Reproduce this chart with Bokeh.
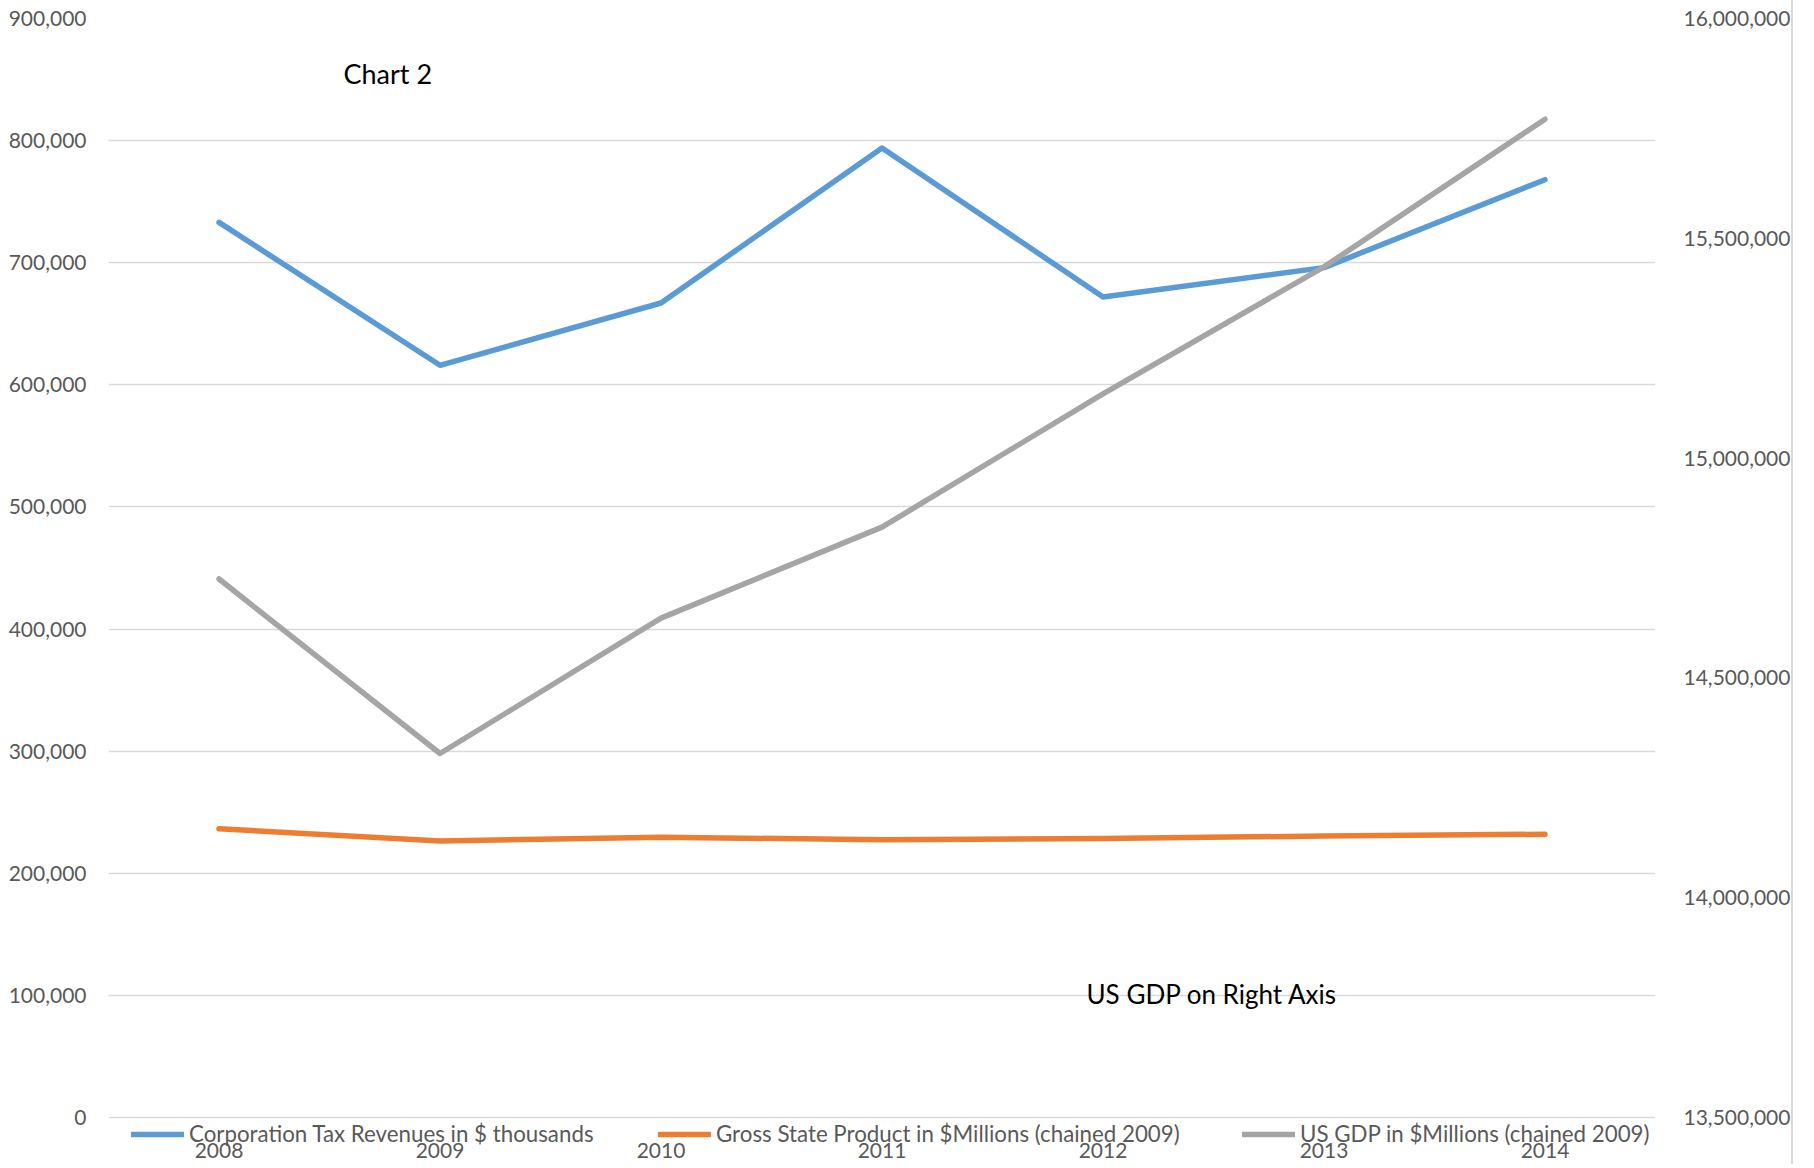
from bokeh.plotting import figure
from bokeh.models import (Range1d, FactorRange, LinearAxis, SingleIntervalTicker,
                          NumeralTickFormatter, Legend, LegendItem, Label)
from bokeh.embed import file_html
from bokeh.resources import INLINE

years = ["2008", "2009", "2010", "2011", "2012", "2013", "2014"]
corp_tax = [733000, 616000, 667000, 794000, 672000, 696000, 768000]
gsp = [236500, 226500, 229500, 227500, 228500, 230500, 232000]
us_gdp = [14725000, 14328000, 14636000, 14843000, 15146000, 15435000, 15771000]

names = ["Corporation Tax Revenues in $ thousands",
         "Gross State Product in $Millions (chained 2009)",
         "US GDP in $Millions (chained 2009)"]
colors = ["#5B9BD5", "#ED7D31", "#A5A5A5"]

FONT = "Lato"
TXT = "#595959"

# the frame extends a little below zero so the legend can sit under the 0 gridline
p = figure(width=1793, height=1164, x_range=FactorRange(*years, range_padding=0),
           y_range=Range1d(-27025, 900000), output_backend="svg", toolbar_location=None,
           min_border_left=108, min_border_right=135, min_border_top=18,
           min_border_bottom=14)
p.styles = {"border-right": "2px solid #D9D9D9"}
p.outline_line_color = None
p.background_fill_color = "white"

p.extra_y_ranges = {"gdp": Range1d(13424932, 16000000)}

ya = p.yaxis[0]
ya.ticker = SingleIntervalTicker(interval=100000)
ya.formatter = NumeralTickFormatter(format="0,0")
ra = LinearAxis(y_range_name="gdp", ticker=SingleIntervalTicker(interval=500000),
                formatter=NumeralTickFormatter(format="0,0"))
p.add_layout(ra, "right")

for ax in [p.xaxis[0], ya, ra]:
    ax.axis_line_color = None
    ax.major_tick_line_color = None
    ax.minor_tick_line_color = None
    ax.major_label_text_color = TXT
    ax.major_label_text_font = FONT
    ax.major_label_text_font_size = "21px"
ya.major_label_standoff = 16
ra.major_label_standoff = 22
p.xaxis[0].major_label_standoff = -14

p.xgrid.grid_line_color = None
p.ygrid.grid_line_color = "#D9D9D9"
p.ygrid.grid_line_width = 1.5

kw = dict(line_width=5.5, line_join="round", line_cap="round")
r1 = p.line(years, corp_tax, line_color=colors[0], **kw)
r2 = p.line(years, gsp, line_color=colors[1], **kw)
r3 = p.line(years, us_gdp, line_color=colors[2], y_range_name="gdp", **kw)

for r, name, xloc in [(r1, names[0], 23), (r2, names[1], 550), (r3, names[2], 1134)]:
    lg = Legend(items=[LegendItem(label=name, renderers=[r])], location=(xloc, 3),
                orientation="horizontal", padding=0, margin=0, border_line_color=None,
                background_fill_alpha=0, glyph_width=53, glyph_height=16, label_height=16,
                label_standoff=5, label_text_font=FONT, label_text_font_size="22.3px",
                label_text_color=TXT)
    p.add_layout(lg, "center")

p.add_layout(Label(x=235, y=1077, x_units="screen", y_units="screen", text="Chart  2",
                   text_font=FONT, text_font_size="27px", text_color="black",
                   text_baseline="middle"))
p.add_layout(Label(x=978, y=157, x_units="screen", y_units="screen", text="US GDP on Right Axis",
                   text_font=FONT, text_font_size="26px", text_color="black",
                   text_baseline="middle"))

open("out.html", "w").write(file_html(p, INLINE))
